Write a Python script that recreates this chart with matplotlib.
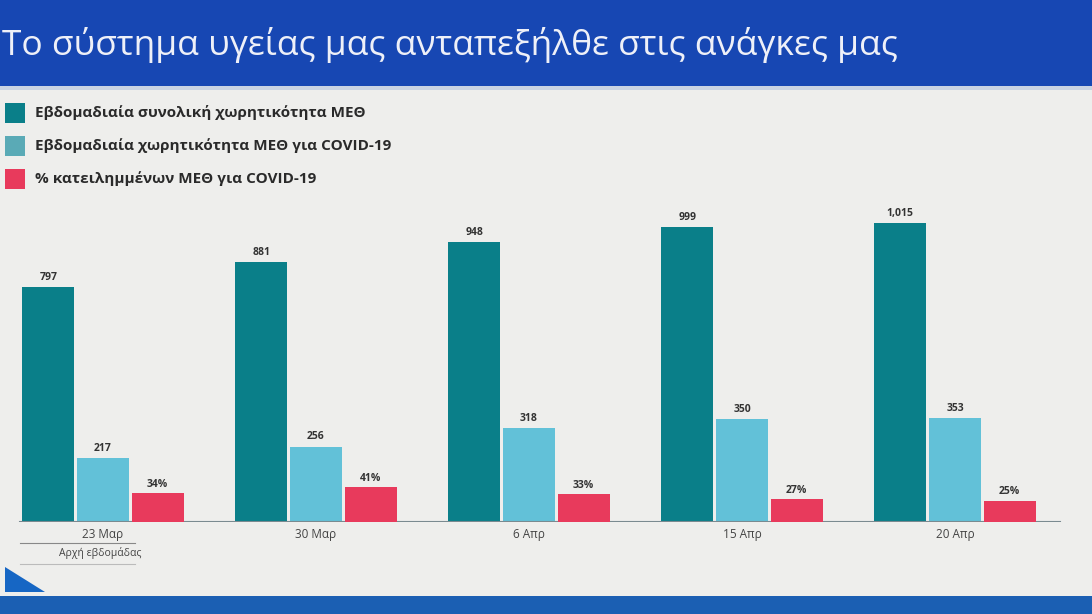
import matplotlib
matplotlib.use("Agg")
import matplotlib.pyplot as plt
import numpy as np
from matplotlib.patches import Rectangle, Polygon

plt.rcParams['font.family'] = ['Open Sans', 'DejaVu Sans']

categories = ["23 Μαρ", "30 Μαρ", "6 Απρ", "15 Απρ", "20 Απρ"]
total_icu = [797, 881, 948, 999, 1015]
covid_icu = [217, 256, 318, 350, 353]
pct_occupied = [34, 41, 33, 27, 25]
series_names = ["Εβδομαδιαία συνολική χωρητικότητα ΜΕΘ",
                "Εβδομαδιαία χωρητικότητα ΜΕΘ για COVID-19",
                "% κατειλημμένων ΜΕΘ για COVID-19"]
title = "Το σύστημα υγείας μας ανταπεξήλθε στις ανάγκες μας"
xlabel = "Αρχή εβδομάδας"

c_teal = "#0a7f89"
c_light = "#62c1d8"
c_red = "#e83a5c"
bg = "#eeeeec"

W, H = 1092, 614
fig = plt.figure(figsize=(W/100, H/100), dpi=100, facecolor=bg)

# header band
fig.patches.append(Rectangle((0, 1 - 86/H), 1, 86/H, transform=fig.transFigure,
                             facecolor="#1747b3", edgecolor="none", zorder=0))
fig.patches.append(Rectangle((0, 1 - 90/H), 1, 4/H, transform=fig.transFigure,
                             facecolor="#c9d3e3", edgecolor="none", zorder=0))
fig.text(2/W, 1 - 45/H, title, color="#eef0f8", fontsize=25.5, va="center", ha="left")

# bottom strip and triangle
fig.patches.append(Rectangle((0, 0), 1, 18/H, transform=fig.transFigure,
                             facecolor="#1b5fb3", edgecolor="none", zorder=0))
fig.patches.append(Polygon([(5/W, 1 - 567/H), (5/W, 1 - 592/H), (45/W, 1 - 592/H)],
                           closed=True, transform=fig.transFigure,
                           facecolor="#1666c4", edgecolor="none"))

# legend
leg_colors = [c_teal, "#5aaab6", c_red]
for i, (name, col) in enumerate(zip(series_names, leg_colors)):
    yc = 113 + i * 33
    fig.patches.append(Rectangle((5/W, 1 - (yc + 10)/H), 20/W, 20/H, transform=fig.transFigure,
                                 facecolor=col, edgecolor="none"))
    fig.text(35/W, 1 - yc/H, name, fontsize=11, fontweight="bold", color="#2a2a2a",
             va="center", ha="left")

# main axes
ax_bottom = 92 / H
ax_h = 322 / H
ax = fig.add_axes([0, ax_bottom, 1, ax_h])
ax.set_facecolor("none")
x = np.arange(len(categories))
w = 0.245
off = 0.257
b1 = ax.bar(x - off, total_icu, w, color=c_teal)
b2 = ax.bar(x, covid_icu, w, color=c_light)
ax.set_xlim(-103/213, -103/213 + W/213)
ax.set_ylim(0, 1092)
for rect, v in zip(b1, total_icu):
    ax.text(rect.get_x() + rect.get_width()/2, v + 14, f"{v:,}", ha="center", va="bottom",
            fontsize=7.5, fontweight="bold", color="#333333")
for rect, v in zip(b2, covid_icu):
    ax.text(rect.get_x() + rect.get_width()/2, v + 14, f"{v:,}", ha="center", va="bottom",
            fontsize=7.5, fontweight="bold", color="#333333")
for s in ax.spines.values():
    s.set_visible(False)
ax.set_yticks([])
ax.set_xticks(x)
ax.set_xticklabels(categories, fontsize=8.5, color="#444444")
ax.tick_params(axis="x", length=0, pad=4)
ax.axhline(0, xmin=20/W, xmax=1060/W, color="#7a8a90", lw=1.5, zorder=5)

ax2 = ax.twinx()
ax2.set_ylim(0, 379)
b3 = ax2.bar(x + off, pct_occupied, w, color=c_red)
for rect, v in zip(b3, pct_occupied):
    ax2.text(rect.get_x() + rect.get_width()/2, v + 4, f"{v}%", ha="center", va="bottom",
             fontsize=7.5, fontweight="bold", color="#333333")
ax2.set_yticks([])
for s in ax2.spines.values():
    s.set_visible(False)
ax2.set_xlim(ax.get_xlim())

# x-axis title with lines
fig.text(100/W, 1 - 553/H, xlabel, fontsize=7.5, color="#444444", ha="center", va="center")
fig.add_artist(plt.Line2D([20/W, 135/W], [1 - 543/H, 1 - 543/H], color="#888888", lw=0.8))
fig.add_artist(plt.Line2D([20/W, 135/W], [1 - 564/H, 1 - 564/H], color="#bbbbbb", lw=0.8))

fig.savefig("out.png", dpi=100, facecolor=bg)
